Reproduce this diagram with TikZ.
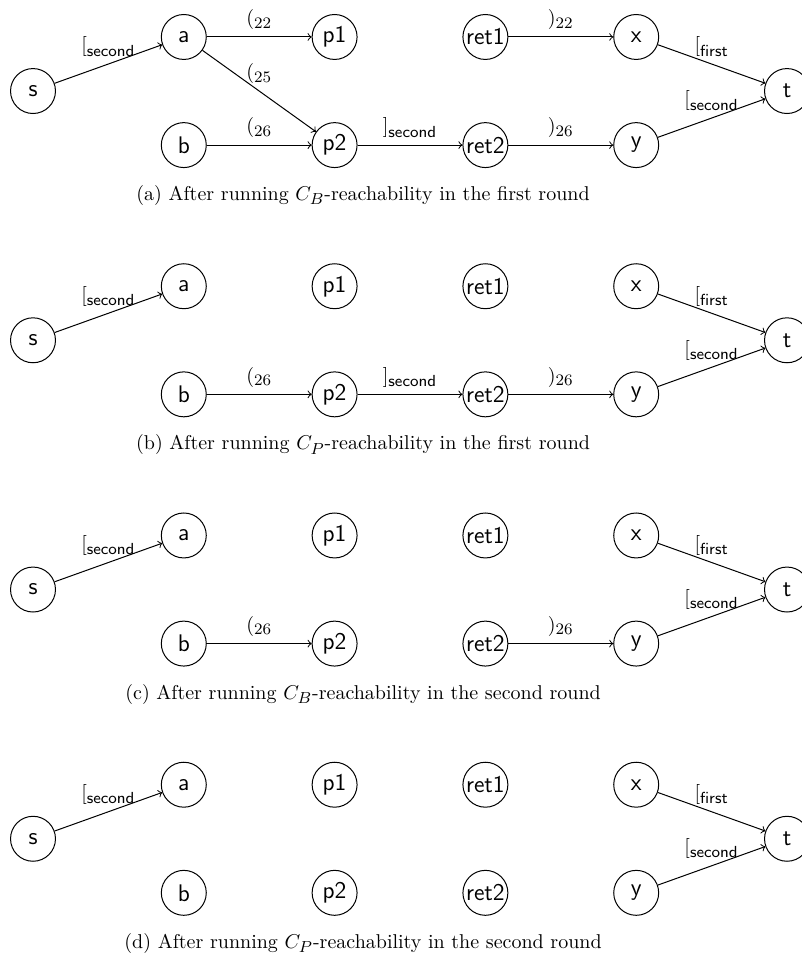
\documentclass[tikz,border=0pt]{standalone}
\usepackage{amssymb}
\usepackage{amsmath}
\usepackage{tikz}
\DeclareMathSizes{10}{10}{8}{6}

\begin{document}
\begin{tikzpicture}[line width=0.5pt,
	vert/.style={circle,draw,minimum size=0.79cm,inner sep=0pt,font=\sffamily\large},
	edge/.style={->},
	]
	\useasboundingbox (-0.58,1.6) rectangle (13.513,-15.288);
	
	\foreach \p/\yy/\lbl/\cls/\rnd in {A/0/a/B/first, B/-4.38/b/P/first, C/-8.76/c/B/second, D/-13.14/d/P/second}{
		\node[vert] (\p s)    at (0,\yy) {s};
		\node[vert] (\p a)    at (2.65,\yy+0.95) {a};
		\node[vert] (\p p1)   at (5.3,\yy+0.95) {p1};
		\node[vert] (\p ret1) at (7.95,\yy+0.95) {ret1};
		\node[vert] (\p x)    at (10.6,\yy+0.95) {x};
		\node[vert] (\p b)    at (2.65,\yy-0.95) {b};
		\node[vert] (\p p2)   at (5.3,\yy-0.95) {p2};
		\node[vert] (\p ret2) at (7.95,\yy-0.95) {ret2};
		\node[vert] (\p y)    at (10.6,\yy-0.95) {y};
		\node[vert] (\p t)    at (13.25,\yy) {t};
		
		\draw[edge] (\p s) -- node[above] {$[_{\textsf{second}}$} (\p a);
		\draw[edge] (\p x) -- node[above] {$[_{\textsf{first}}$} (\p t);
		\draw[edge] (\p y) -- node[above] {$[_{\textsf{second}}$} (\p t);
		
		\node (\p cap) at (5.8,\yy-1.84) {(\lbl) After running $C_\cls$-reachability in the \rnd\ round};
	}
	
	%(a)
	\draw[edge] (Aa) -- node[above] {$(_{22}$} (Ap1);
	\draw[edge] (Aa) -- node[above] {$(_{25}$} (Ap2);
	\draw[edge] (Ab) -- node[above] {$(_{26}$} (Ap2);
	\draw[edge] (Ap2) -- node[above] {$]_{\textsf{second}}$} (Aret2);
	\draw[edge] (Aret1) -- node[above] {$)_{22}$} (Ax);
	\draw[edge] (Aret2) -- node[above] {$)_{26}$} (Ay);
	
	%(b)
	\draw[edge] (Bb) -- node[above] {$(_{26}$} (Bp2);
	\draw[edge] (Bp2) -- node[above] {$]_{\textsf{second}}$} (Bret2);
	\draw[edge] (Bret2) -- node[above] {$)_{26}$} (By);
	
	%(c)
	\draw[edge] (Cb) -- node[above] {$(_{26}$} (Cp2);
	\draw[edge] (Cret2) -- node[above] {$)_{26}$} (Cy);
\end{tikzpicture}
\end{document}
